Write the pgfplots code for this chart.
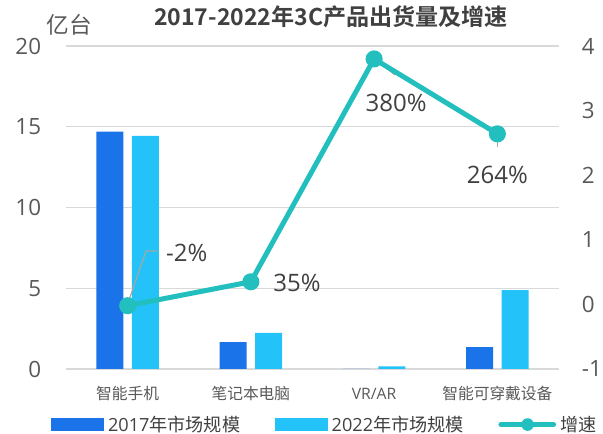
\documentclass[border=0pt]{standalone}
\usepackage{pgfplots}
\pgfplotsset{compat=1.18}
\usepackage{fontspec}
\setmainfont{Open Sans}
\newfontfamily\cjk{Noto Sans CJK SC}
\newfontfamily\cjkb{Noto Sans CJK SC Bold}
\definecolor{cA}{HTML}{1A73E8}
\definecolor{cB}{HTML}{23C3F9}
\definecolor{cL}{HTML}{22BFBE}
\definecolor{cG}{HTML}{D9D9D9}
\definecolor{cT}{HTML}{595959}
\definecolor{cD}{HTML}{404040}
\definecolor{cK}{HTML}{A6A6A6}
\begin{document}
\begin{tikzpicture}
\path[use as bounding box] (-49.5pt,-48.75pt) rectangle (402.75pt,276.75pt);
\begin{axis}[
  at={(0pt,0pt)}, anchor=south west, clip=false,
  scale only axis, width=369.75pt, height=242.25pt,
  xmin=-0.5, xmax=3.5, ymin=0, ymax=20,
  axis line style={draw=none}, tick style={draw=none},
  ymajorgrids, grid style={cG, line width=0.9pt},
  xtick={0,1,2,3},
  xticklabels={{\cjk 智能手机},{\cjk 笔记本电脑},VR/AR,{\cjk 智能可穿戴设备}},
  xticklabel style={font=\fontsize{11.8}{13}\selectfont, text=cT, anchor=base, inner sep=0pt, yshift=-23.2pt},
  ytick={0,5,10,15,20}, yticklabels={0,5,10,15,20},
  yticklabel style={font=\fontsize{16.8}{18}\selectfont, text=cT, anchor=east, inner sep=0pt, xshift=-18.5pt},
  title={\cjkb 2017-2022年3C产品出货量及增速},
  title style={at={(0.5375,1.066)}, anchor=center, font=\fontsize{17.3}{19}\selectfont, text=cD},
]
\addplot[ybar, bar width=20.25pt, bar shift=-13.3pt, fill=cA, draw=none] coordinates {(0,14.7) (1,1.67) (2,0) (3,1.36)};
\addplot[ybar, bar width=20.25pt, bar shift=13.3pt, fill=cB, draw=none] coordinates {(0,14.43) (1,2.23) (2,0.17) (3,4.89)};
\node[font=\cjk\fontsize{17}{19}\selectfont, text=cT] at (axis description cs:0.007,1.064) {亿台};
\end{axis}
\begin{axis}[
  at={(0pt,0pt)}, anchor=south west,
  scale only axis, width=369.75pt, height=242.25pt,
  xmin=-0.5, xmax=3.5, ymin=-1, ymax=4,
  axis line style={draw=none}, tick style={draw=none},
  xtick=\empty,
  axis y line*=right,
  ytick={-1,0,1,2,3,4}, yticklabels={-1,0,1,2,3,4},
  yticklabel style={font=\fontsize{16.8}{18}\selectfont, text=cT, anchor=west, inner sep=0pt, xshift=17pt},
  legend columns=3,
  legend style={at={(-0.0305,-0.172)}, anchor=west, draw=none, fill=none, inner sep=0pt,
    font=\fontsize{13.6}{15}\selectfont, text=cD,
    nodes={inner sep=1pt},
    /tikz/every odd column/.append style={column sep=2.2pt},
    /tikz/every even column/.append style={column sep=25pt}},
]
\addlegendimage{legend image code/.code={\fill[cA] (0pt,-4.5pt) rectangle (39pt,4.5pt);}}
\addlegendentry{2017{\cjk 年市场规模}}
\addlegendimage{legend image code/.code={\fill[cB] (0pt,-4.5pt) rectangle (39pt,4.5pt);}}
\addlegendentry{2022{\cjk 年市场规模}}
\addlegendimage{legend image code/.code={\draw[cL, line width=3.75pt, line cap=round] (1.5pt,0pt) -- (41pt,0pt); \fill[cL] (21.5pt,0pt) circle (4.5pt);}}
\addlegendentry{{\cjk 增速}}
\draw[cK, line width=0.9pt] (axis cs:0.003,0.02) -- (axis cs:0.149,0.827) -- (axis cs:0.238,0.827);
\draw[cK, line width=0.9pt] (axis cs:2,3.81) -- (axis cs:2.169,3.551);
\draw[cK, line width=0.9pt] (axis cs:3,2.64) -- (axis cs:3,2.437);
\addplot[cL, line width=3.75pt, mark=*, mark size=4.5pt, mark options={fill=cL, draw=none}, forget plot] coordinates {(0,-0.02) (1,0.35) (2,3.8) (3,2.64)};
\node[font=\fontsize{18}{20}\selectfont, text=cD, anchor=west, inner sep=0pt] at (axis cs:0.311,0.796) {-2\%};
\node[font=\fontsize{18}{20}\selectfont, text=cD, anchor=west, inner sep=0pt] at (axis cs:1.18,0.331) {35\%};
\node[font=\fontsize{18}{20}\selectfont, text=cD, anchor=center, inner sep=0pt] at (axis cs:2.178,3.118) {380\%};
\node[font=\fontsize{18}{20}\selectfont, text=cD, anchor=center, inner sep=0pt] at (axis cs:3.0,2.003) {264\%};
\end{axis}
\end{tikzpicture}
\end{document}
